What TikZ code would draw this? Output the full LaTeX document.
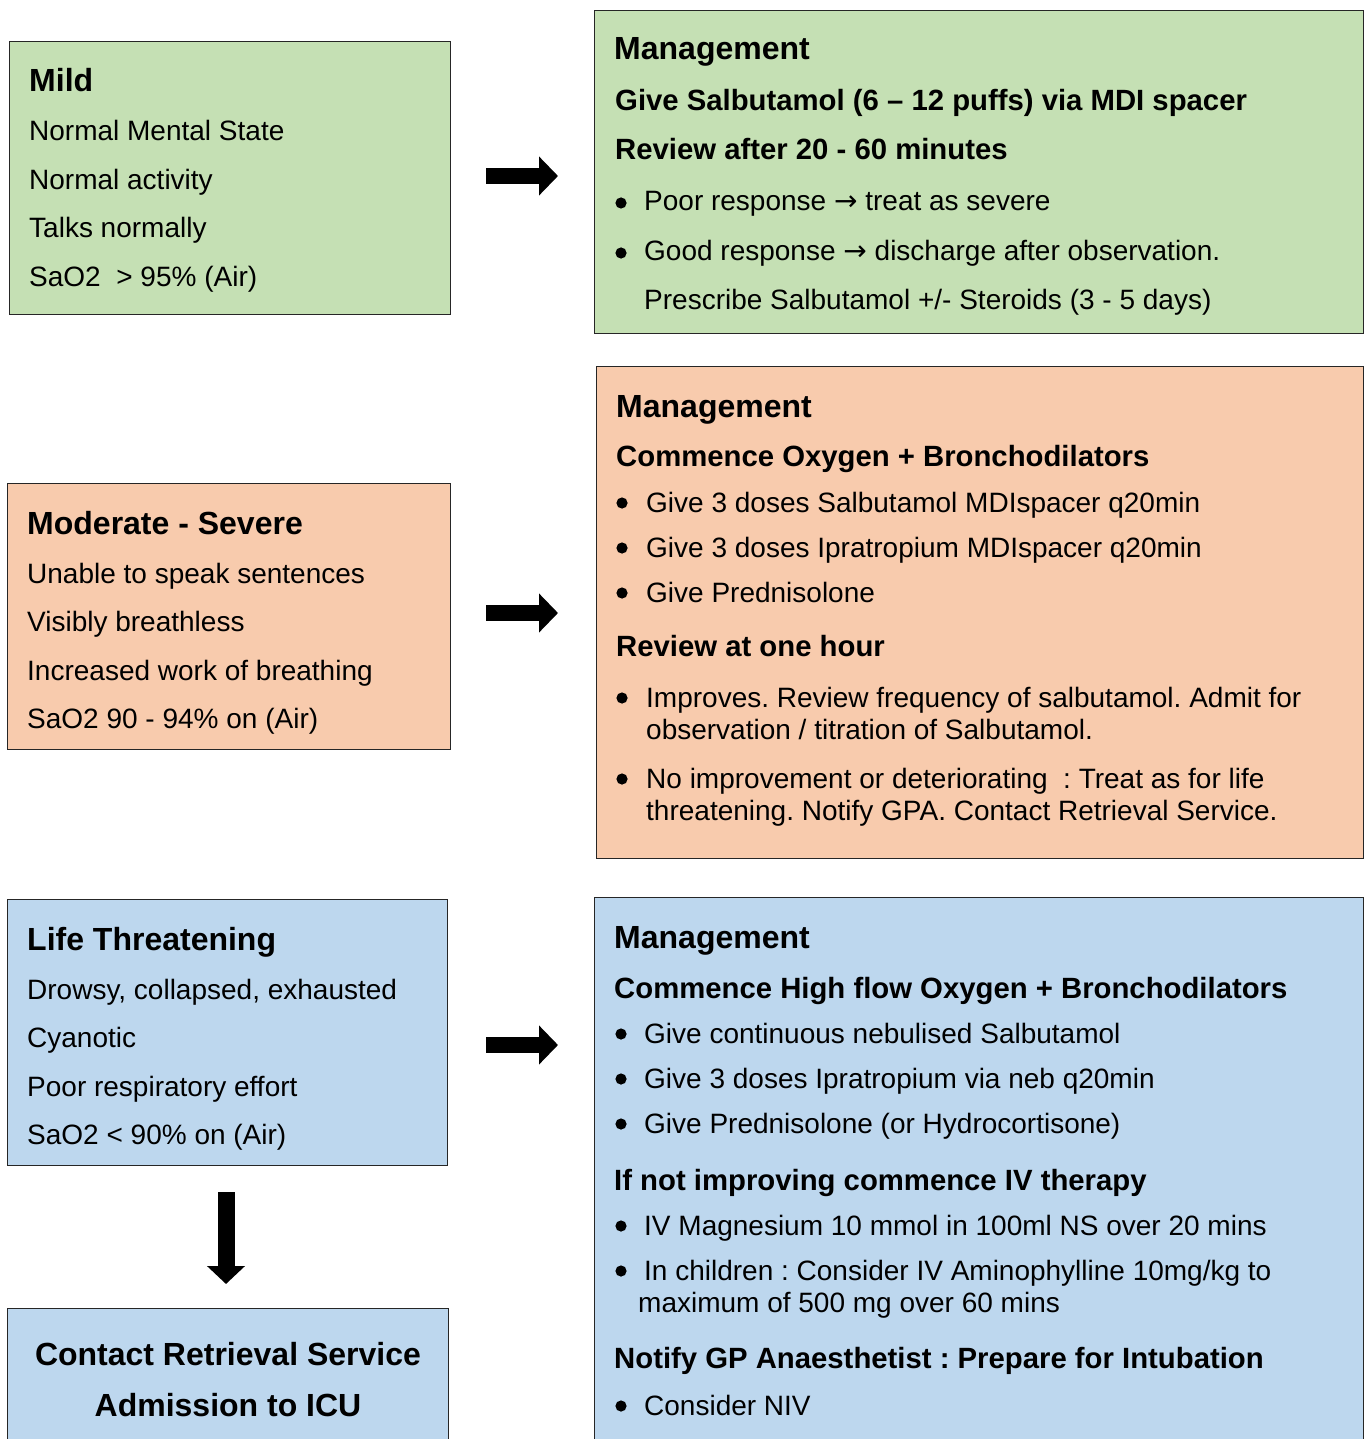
\documentclass[tikz,border=0pt]{standalone}
\usepackage{fontspec}
\setmainfont{Liberation Sans}
\newfontfamily\arrowfont{DejaVu Sans}
\usetikzlibrary{arrows.meta}
\definecolor{cgreen}{HTML}{C5E0B4}
\definecolor{corange}{HTML}{F8CBAD}
\definecolor{cblue}{HTML}{BDD7EE}
\newcommand{\rarr}{{\arrowfont →}}
\tikzset{
  box/.style={draw=black!85, line width=1.2pt, anchor=north west, inner sep=0pt},
  body/.style={anchor=base west, inner sep=0pt, font=\fontsize{28}{28}\selectfont},
  head/.style={anchor=base west, inner sep=0pt, font=\fontsize{32}{32}\selectfont\bfseries},
  sub/.style={anchor=base west, inner sep=0pt, font=\fontsize{29.3}{29.3}\selectfont\bfseries},
  bigarrow/.style={line width=16pt, -{Triangle[width=38pt,length=19pt]}},
  bdot/.style={fill=black}
}
\begin{document}
\frenchspacing
\begin{tikzpicture}[x=1pt,y=-1pt]
\clip (0,0) rectangle (1364,1439);
\fill[white] (0,0) rectangle (1364,1439);
% ---------- boxes ----------
\node[box, fill=cgreen, minimum width=441pt, minimum height=273pt] (mild) at (9,41) {};
\node[box, fill=cgreen, minimum width=769pt, minimum height=323pt] (mgmtA) at (594,10) {};
\node[box, fill=corange, minimum width=443pt, minimum height=266pt] (mod) at (7,483) {};
\node[box, fill=corange, minimum width=767pt, minimum height=492pt] (mgmtB) at (596,366) {};
\node[box, fill=cblue, minimum width=440pt, minimum height=266pt] (life) at (7,899) {};
\node[box, fill=cblue, minimum width=769pt, minimum height=570pt] (mgmtC) at (594,897) {};
\node[box, fill=cblue, minimum width=441pt, minimum height=150pt] (icu) at (7,1308) {};
% ---------- arrows ----------
\coordinate (a1s) at (486,176); \coordinate (a1e) at (558,176);
\coordinate (a2s) at (486,613); \coordinate (a2e) at (558,613);
\coordinate (a3s) at (486,1045); \coordinate (a3e) at (558,1045);
\coordinate (a4s) at (226,1192); \coordinate (a4e) at (226,1284);
\draw[bigarrow] (a1s) -- (a1e);
\draw[bigarrow] (a2s) -- (a2e);
\draw[bigarrow] (a3s) -- (a3e);
\draw[line width=17pt, -{Triangle[width=37pt,length=18pt]}] (a4s) -- (a4e);
% ---------- Mild ----------
\node[head] (m1) at (29,92) {Mild};
\node[body] (m2) at (29,141) {Normal Mental State};
\node[body] (m3) at (29,190) {Normal activity};
\node[body] (m4) at (29,238) {Talks normally};
\node[body] (m5) at (29,286) {SaO2\ \ > 95\% (Air)};
% ---------- Management green ----------
\node[head] (g1) at (614,60) {Management};
\node[sub] (g2) at (615,111) {Give Salbutamol (6 – 12 puffs) via MDI spacer};
\node[sub] (g3) at (615,160) {Review after 20 - 60 minutes};
\fill[bdot] (621,203) circle (5.6pt);
\node[body] (g4) at (644,211) {Poor response \rarr\ treat as severe};
\fill[bdot] (621,253) circle (5.6pt);
\node[body] (g5) at (644,261) {Good response \rarr\ discharge after observation.};
\node[body] (g6) at (644,309) {Prescribe Salbutamol +/- Steroids (3 - 5 days)};
% ---------- Moderate ----------
\node[head] (s1) at (27,534) {Moderate - Severe};
\node[body] (s2) at (27,583) {Unable to speak sentences};
\node[body] (s3) at (27,631) {Visibly breathless};
\node[body] (s4) at (27,680) {Increased work of breathing};
\node[body] (s5) at (27,728) {SaO2 90 - 94\% on (Air)};
% ---------- Management orange ----------
\node[head] (o1) at (616,417) {Management};
\node[sub] (o2) at (616,466) {Commence Oxygen + Bronchodilators};
\fill[bdot] (622,503) circle (5.6pt);
\node[body] (o3) at (646,512) {Give 3 doses Salbutamol MDIspacer q20min};
\fill[bdot] (622,548) circle (5.6pt);
\node[body] (o4) at (646,557) {Give 3 doses Ipratropium MDIspacer q20min};
\fill[bdot] (622,593) circle (5.6pt);
\node[body] (o5) at (646,602) {Give Prednisolone};
\node[sub] (o6) at (616,656) {Review at one hour};
\fill[bdot] (622,698) circle (5.6pt);
\node[body] (o7) at (646,707) {Improves. Review frequency of salbutamol. Admit for};
\node[body] (o8) at (646,739) {observation / titration of Salbutamol.};
\fill[bdot] (622,779) circle (5.6pt);
\node[body] (o9) at (646,788) {No improvement or deteriorating\ \ : Treat as for life};
\node[body] (o10) at (646,820) {threatening. Notify GPA. Contact Retrieval Service.};
% ---------- Life threatening ----------
\node[head] (l1) at (27,950) {Life Threatening};
\node[body] (l2) at (27,999) {Drowsy, collapsed, exhausted};
\node[body] (l3) at (27,1047) {Cyanotic};
\node[body] (l4) at (27,1096) {Poor respiratory effort};
\node[body] (l5) at (27,1144) {SaO2 < 90\% on (Air)};
% ---------- ICU ----------
\node[head, anchor=base] (i1) at (228,1365) {Contact Retrieval Service};
\node[head, anchor=base] (i2) at (228,1416) {Admission to ICU};
% ---------- Management blue ----------
\node[head] (b1) at (614,948) {Management};
\node[sub] (b2) at (614,998) {Commence High flow Oxygen + Bronchodilators};
\fill[bdot] (621,1034) circle (5.6pt);
\node[body] (b3) at (644,1043) {Give continuous nebulised Salbutamol};
\fill[bdot] (621,1079) circle (5.6pt);
\node[body] (b4) at (644,1088) {Give 3 doses Ipratropium via neb q20min};
\fill[bdot] (621,1124) circle (5.6pt);
\node[body] (b5) at (644,1133) {Give Prednisolone (or Hydrocortisone)};
\node[sub] (b6) at (614,1190) {If not improving commence IV therapy};
\fill[bdot] (621,1226) circle (5.6pt);
\node[body] (b7) at (644,1235) {IV Magnesium 10 mmol in 100ml NS over 20 mins};
\fill[bdot] (621,1271) circle (5.6pt);
\node[body] (b8) at (644,1280) {In children : Consider IV Aminophylline 10mg/kg to};
\node[body] (b9) at (638,1312) {maximum of 500 mg over 60 mins};
\node[sub] (b10) at (614,1368) {Notify GP Anaesthetist : Prepare for Intubation};
\fill[bdot] (621,1406) circle (5.6pt);
\node[body] (b11) at (644,1415) {Consider NIV};
\end{tikzpicture}
\end{document}
